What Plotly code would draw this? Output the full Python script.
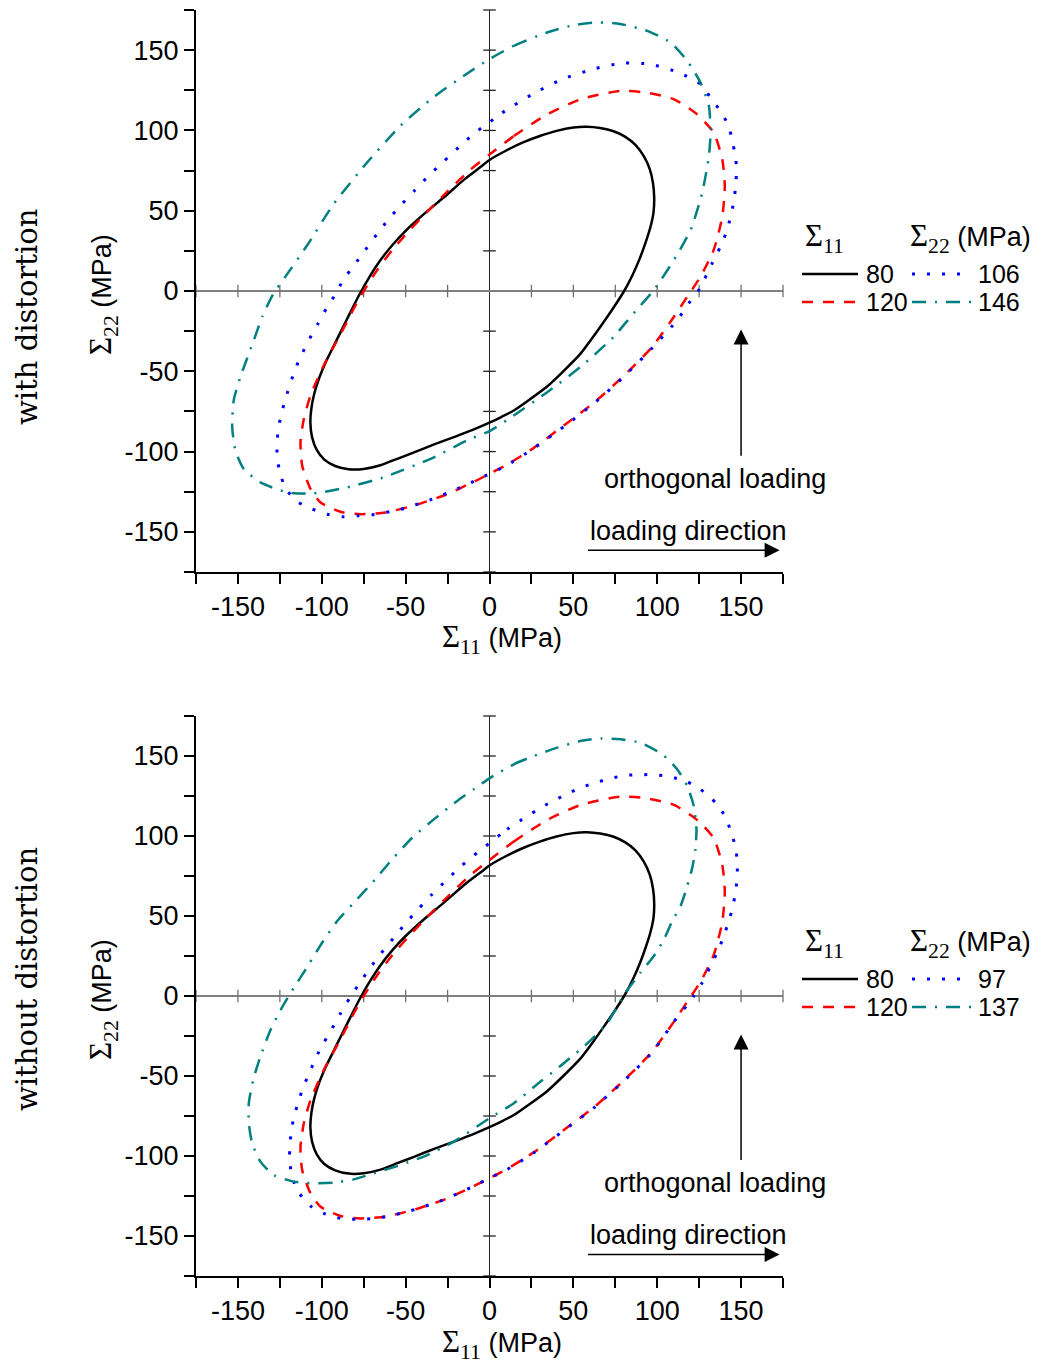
import plotly.graph_objects as go

# ---------------- data ----------------
# Sigma11 = 80 (black, solid) - identical in both panels
black_x = [0.6, 10, 20, 30, 40, 50, 58, 66, 74, 81, 87, 92, 95.5, 97.5, 98.2, 97.8, 96, 93, 89.5, 85.3, 80.3,
           74.5, 68.3, 61.5, 54.3, 44, 34, 24, 14.5, 7, 0.6, -10, -20, -33, -45, -55, -65, -75, -84, -92, -98.5,
           -103, -105.8, -106.8, -106.2, -104.5, -101.5, -97.5, -93, -88.3, -83.2, -77.7, -72, -65.5, -58,
           -50, -39, -27, -15, -5, 0.6]
black_y = [82, 87.5, 92.5, 96.5, 99.7, 101.8, 102.3, 101.5, 99.5, 96, 91, 84, 76, 67, 58, 49, 40, 30, 20, 10, 0,
           -9.5, -19, -29, -39, -50, -59.8, -67.5, -74.4, -78.5, -81.7, -86.5, -90.5, -95.5, -100.5, -104.5, -108.5,
           -110.8, -111, -109, -105, -99, -91, -82, -73, -64, -54, -44, -34.5, -24.5, -13.8, -2.5, 8, 18.5, 28.5,
           37.5, 48, 58.5, 69.5, 77.5, 82]

# Sigma11 = 120 (red, dashed) - identical in both panels
red_x = [0, 14.5, 34.4, 54.3, 78, 94, 110, 123.8, 133.7, 138.8, 140.3, 138.8, 133.7, 125.8, 117.9,
         110, 97, 80, 62.2, 44.3, 26.4, 9.5, 0.6, -8.8, -26.2, -44.1, -62, -76.9, -88.9, -100.7,
         -106.7, -111.7, -112.7, -110.7, -106.7, -98.8, -92, -86, -80.5, -75, -67, -58, -48, -37,
         -25, -12, 0]
red_y = [85, 96.5, 110, 119.4, 124.6, 123.5, 119.4, 110, 98.6, 81.9, 65.2, 46.4, 25.6, 8.9, -3.6,
         -16, -34.8, -52.9, -69.6, -83.75, -97.7, -108.75, -113.5, -118.5, -126.9, -133.3, -137.9, -139, -137.5, -131.7,
         -123.3, -108.75, -94.2, -79.6, -65, -46.25, -33, -21.25, -10, 0, 13, 25.5, 37.5, 49.5,
         62, 75, 85]

# Sigma22 = 106 (blue, dotted) - with distortion
blue_top_x = [-0.4, 7.6, 25.5, 43.4, 61.2, 79, 96, 112.9, 125.8, 131.8, 137.7, 142.7, 144.7, 146.7, 147.3,
              146.7, 145.7, 141.7, 137.7, 132.8, 124.8, 118.8, 112, 97, 80, 62.2, 44.3, 26.4, 9.5, 0.6,
              -8.3, -17.3, -35.2, -53, -70, -78.9, -87.8, -96.8, -105.7, -113.7, -121.6, -124.6, -126.6,
              -126.6, -126, -124, -121.6, -115.7, -111.7, -107.2, -102.4, -97.2, -91.8, -86.9, -80.5, -74,
              -67.4, -60.4, -53, -44.7, -36.2, -27.2, -18.3, -9.4, -0.4]
blue_top_y = [104.8, 111, 122.5, 131.9, 138, 141.9, 141.2, 136, 128.8, 120.4, 112, 102.7, 93.3, 84, 74.6,
              65.2, 55.8, 38, 27.7, 17.3, 0.6, -7.7, -18, -35.5, -53.5, -70, -84.5, -98, -109, -113.5,
              -118, -122.3, -130, -136, -139.4, -140, -140.6, -139, -135.8, -131.7, -123.3, -114, -104.6,
              -95.2, -85.8, -76.4, -67, -48.3, -39, -29.6, -20.6, -10.8, -1.9, 7.5, 16.3, 25.6,
              35, 44.4, 53.3, 62.5, 71.9, 80.8, 89.6, 97.9, 104.8]

# Sigma22 = 146 (teal, dash-dot) - with distortion
teal_top_x = [0, 14.5, 34.4, 50.3, 64.2, 78, 94, 107.9, 117.9, 125.8, 130.8, 131.8, 130.8, 126.8, 119.9,
              110, 98, 85, 74, 54.3, 34.4, 14.5, 0.6, -13.3, -33.2, -63, -84.9, -104.8, -120.6, -136.6,
              -146.5, -151.5, -153.4, -152.5, -148.5, -140.5, -135.5, -129, -122, -109, -93, -73,
              -53, -33, -13.3, 0]
teal_top_y = [144.4, 152.7, 161, 165.6, 167.3, 166.3, 162, 154.8, 143.3, 129.8, 115.2, 98.6, 84, 61, 38,
              19.4, 0.6, -15, -28.6, -47.3, -63, -77.5, -86.9, -93, -103.6, -116, -122.3, -126, -125.4, -119.2,
              -110.8, -99.4, -84.8, -68, -53.5, -30.6, -16, -2, 8.5, 28, 54, 80,
              103, 121, 135.5, 144.4]

# Sigma22 = 97 (blue, dotted) - without distortion
blue_bot_x = [1.6, 10.5, 19.5, 28, 36.8, 45.9, 54.3, 63.2, 72.2, 81.1, 90, 99, 107.9, 116.9, 125.8, 134.8,
              140.7, 144.1, 146.7, 147.7, 147.7, 146.7, 145.1, 142.7, 139.7, 136.2, 131.8, 126.8, 121.8,
              117.9, 110, 97, 80, 62.2, 44.3, 26.4, 9.5, 0, -8.8, -17.7, -26.2, -35.2, -44.1, -53, -62,
              -71, -79.9, -88.8, -97.8, -106.7, -114.1, -117.7, -119.1, -119.1, -118.2, -116.7, -114.1,
              -111.1, -107.3, -103.4, -98.8, -93.8, -88.8, -83.5, -77.5, -71.4, -64.6, -57.4, -50.1,
              -42.2, -34.2, -25.2, -16.3, -7.3, 1.6]
blue_bot_y = [96.9, 104.2, 110.4, 116, 121.3, 126.1, 130.2, 133.3, 136, 137.9, 138.3, 138.3, 136.9, 134.4, 129.2, 120.8,
              111.9, 102.1, 93.1, 83.8, 74.4, 65.2, 55.8, 46.9, 37.5, 28.1, 18.8, 8.3, 0,
              -5.6, -16, -35.2, -53.2, -69.9, -84, -98, -109, -113.8, -118.5, -122.9, -126.9, -130.2, -133.3, -135.8, -137.9,
              -139.2, -139.6, -139, -136.3, -131.3, -122.3, -112.9, -103.5, -94.2, -85.2, -75.8, -66.7,
              -57, -47.9, -38.3, -29.2, -20.2, -10.8, -1.5, 7.9, 17.3, 26.7, 36, 45.4,
              54.6, 63.6, 72.9, 81.7, 89.6, 96.9]

# Sigma22 = 137 (teal, dash-dot) - without distortion
teal_bot_x = [0.6, 14.5, 26.4, 40.4, 54.3, 66.2, 78.1, 90, 103, 111.9, 117.9, 121.8, 123.4, 122.8, 120.9,
              117.9, 113.9, 109, 104, 98, 90, 80, 70.2, 58.3, 44.3, 30.4, 14.5, 0.6, -21.3, -37.1, -53,
              -69, -80.9, -92.8, -104.8, -116.7, -128.6, -136.6, -141.5, -143.5, -143.5, -140.9, -136.6,
              -130.6, -124.6, -119.7, -114.7, -107.7, -99.8, -90.8, -80.9, -69.9, -58, -46.1, -33.2,
              -19.3, -9, 0.6]
teal_bot_y = [136.5, 144.8, 150, 155.2, 159.4, 161, 160.4, 158.3, 151, 141.7, 131.25, 118.75, 104.2, 91.7, 80.2,
              68.75, 56.3, 46.9, 35.4, 25, 14.6, 0.5, -17, -29.6, -42, -53.5, -67, -76, -91, -99.4, -105.6,
              -110.8, -114.6, -116.7, -117.1, -116, -111.9, -103.5, -92, -79.6, -67, -52.5, -37.9,
              -21.25, -8.75, 0, 8.3, 19.8, 33.3, 46.9, 58.3, 70.8, 85.4, 98.9, 110.4,
              121.9, 129.5, 136.5]

# legend labels
legend_top_labels = ["80", "120", "106", "146"]
legend_bot_labels = ["80", "120", "97", "137"]
panel_labels = ["with distortion", "without distortion"]

# axis ticks
tick_vals = [-150, -100, -50, 0, 50, 100, 150]
tick_text = ["-150", "-100", "-50", "0", "50", "100", "150"]
zero_ticks = [-175, -150, -125, -100, -75, -50, -25, 25, 50, 75, 100, 125, 150, 175]

# ---------------- layout helpers ----------------
OFF = 8                      # page margin of the browser around the figure
W, H = 1041 - OFF, 1362 - OFF
L, R, T, B = 196 - OFF, 258, 10 - OFF, 86
PW, PH = W - L - R, H - T - B


def pxx(px):
    """reference pixel x -> paper x"""
    return (px - OFF - L) / PW


def pyy(py):
    """reference pixel y -> paper y"""
    return (H - B - (py - OFF)) / PH


SANS = "Liberation Sans, Arial, sans-serif"
SERIF_SPAN = "font-family:'Liberation Serif',serif;font-size:31px"

styles = {
    "black": dict(color="black", width=2.5, dash="solid"),
    "red": dict(color="#ff0000", width=2.5, dash="11px,10px"),
    "blue": dict(color="#0000ff", width=3, dash="3px,12px"),
    "teal": dict(color="#008080", width=2.5, dash="14px,9px,2px,9px"),
}

fig = go.Figure()

panels = [
    dict(xa="x", ya="y", curves=[("black", black_x, black_y), ("red", red_x, red_y),
                                 ("blue", blue_top_x, blue_top_y), ("teal", teal_top_x, teal_top_y)],
         labels=legend_top_labels, off=0, title=panel_labels[0], title_y=317),
    dict(xa="x2", ya="y2", curves=[("black", black_x, black_y), ("red", red_x, red_y),
                                   ("blue", blue_bot_x, blue_bot_y), ("teal", teal_bot_x, teal_bot_y)],
         labels=legend_bot_labels, off=705, title=panel_labels[1], title_y=979),
]

annotations = []
shapes = []


def txt(x, y, text, size=27, family=SANS, xanchor="center", yanchor="middle", angle=0):
    return dict(x=x, y=y, xref="paper", yref="paper", showarrow=False, text=text,
                xanchor=xanchor, yanchor=yanchor, textangle=angle,
                font=dict(family=family, size=size, color="black"))


for p in panels:
    xa, ya, off = p["xa"], p["ya"], p["off"]
    # crossing ticks on the zero lines
    fig.add_trace(go.Scatter(x=zero_ticks, y=[0] * len(zero_ticks), xaxis=xa, yaxis=ya, mode="markers",
                             marker=dict(symbol="line-ns", size=9, line=dict(width=1.3, color="#707070")),
                             cliponaxis=False, showlegend=False, hoverinfo="skip"))
    fig.add_trace(go.Scatter(x=[0] * len(zero_ticks), y=zero_ticks, xaxis=xa, yaxis=ya, mode="markers",
                             marker=dict(symbol="line-ew", size=9, line=dict(width=1.3, color="#222222")),
                             cliponaxis=False, showlegend=False, hoverinfo="skip"))
    for name, xs, ys in p["curves"]:
        st = styles[name]
        fig.add_trace(go.Scatter(x=xs, y=ys, xaxis=xa, yaxis=ya, mode="lines",
                                 line=dict(color=st["color"], width=st["width"], dash=st["dash"],
                                           shape="spline", smoothing=0.6),
                                 showlegend=False, hoverinfo="skip"))

    # arrows and their texts
    annotations.append(dict(x=150, y=-24, ax=150, ay=-103.5, xref=xa, yref=ya, axref=xa, ayref=ya,
                            text="", showarrow=True, arrowhead=2, arrowsize=2, arrowwidth=1.5,
                            arrowcolor="black"))
    annotations.append(dict(x=173, y=-161.5, ax=57.8, ay=-161.5, xref=xa, yref=ya, axref=xa, ayref=ya,
                            text="", showarrow=True, arrowhead=2, arrowsize=2, arrowwidth=1.5,
                            arrowcolor="black"))
    annotations.append(dict(x=134.2, y=-117, xref=xa, yref=ya, text="orthogonal loading", showarrow=False,
                            xanchor="center", yanchor="middle",
                            font=dict(family=SANS, size=27, color="black")))
    annotations.append(dict(x=118.7, y=-149.5, xref=xa, yref=ya, text="loading direction", showarrow=False,
                            xanchor="center", yanchor="middle",
                            font=dict(family=SANS, size=27, color="black")))

    # axis titles
    annotations.append(txt(pxx(502), pyy(639 + off),
                           f"<span style=\"{SERIF_SPAN}\">Σ<sub>11</sub></span> (MPa)"))
    annotations.append(txt(pxx(103), pyy(295 + off),
                           f"<span style=\"{SERIF_SPAN}\">Σ<sub>22</sub></span> (MPa)", angle=-90))
    # panel label
    annotations.append(txt(pxx(27), pyy(p["title_y"]), p["title"], size=29,
                           family="DejaVu Serif, serif", angle=-90))

    # legend (two columns)
    annotations.append(txt(pxx(803), pyy(238 + off), f"<span style=\"{SERIF_SPAN}\">Σ<sub>11</sub></span>",
                           xanchor="left"))
    annotations.append(txt(pxx(908), pyy(238 + off),
                           f"<span style=\"{SERIF_SPAN}\">Σ<sub>22</sub></span> (MPa)", xanchor="left"))
    rows = [("black", 802, 858, 864, 274, p["labels"][0]),
            ("red", 802, 858, 864, 302, p["labels"][1]),
            ("blue", 912, 962, 976, 274, p["labels"][2]),
            ("teal", 912, 971, 976, 302, p["labels"][3])]
    for name, x0, x1, xt, yy, lab in rows:
        st = styles[name]
        shapes.append(dict(type="line", xref="paper", yref="paper", x0=pxx(x0), x1=pxx(x1),
                           y0=pyy(yy + off), y1=pyy(yy + off),
                           line=dict(color=st["color"], width=st["width"], dash=st["dash"])))
        annotations.append(txt(pxx(xt), pyy(yy + off), lab, size=25, xanchor="left"))

axis_common = dict(range=[-175, 175], showgrid=False, showline=True, linecolor="black", linewidth=2,
                   ticks="outside", ticklen=10, tickwidth=1.5, tickcolor="black",
                   tickmode="array", tickvals=tick_vals, ticktext=tick_text,
                   minor=dict(tickmode="linear", tick0=0, dtick=25, ticks="outside", ticklen=10,
                              tickwidth=1.5, tickcolor="black"),
                   tickfont=dict(family=SANS, size=27, color="black"), zeroline=True, fixedrange=True)

xcfg = dict(axis_common, zerolinecolor="#222222", zerolinewidth=1.2)
ycfg = dict(axis_common, zerolinecolor="#808080", zerolinewidth=1.6)

fig.update_layout(
    width=W, height=H,
    margin=dict(l=L, r=R, t=T, b=B),
    paper_bgcolor="white", plot_bgcolor="white",
    showlegend=False,
    xaxis=dict(xcfg, domain=[0, 1], anchor="y"),
    yaxis=dict(ycfg, domain=[pyy(572), 1], anchor="x"),
    xaxis2=dict(xcfg, domain=[0, 1], anchor="y2"),
    yaxis2=dict(ycfg, domain=[0, pyy(716)], anchor="x2"),
    annotations=annotations,
    shapes=shapes,
)

fig.write_html("out.html")
